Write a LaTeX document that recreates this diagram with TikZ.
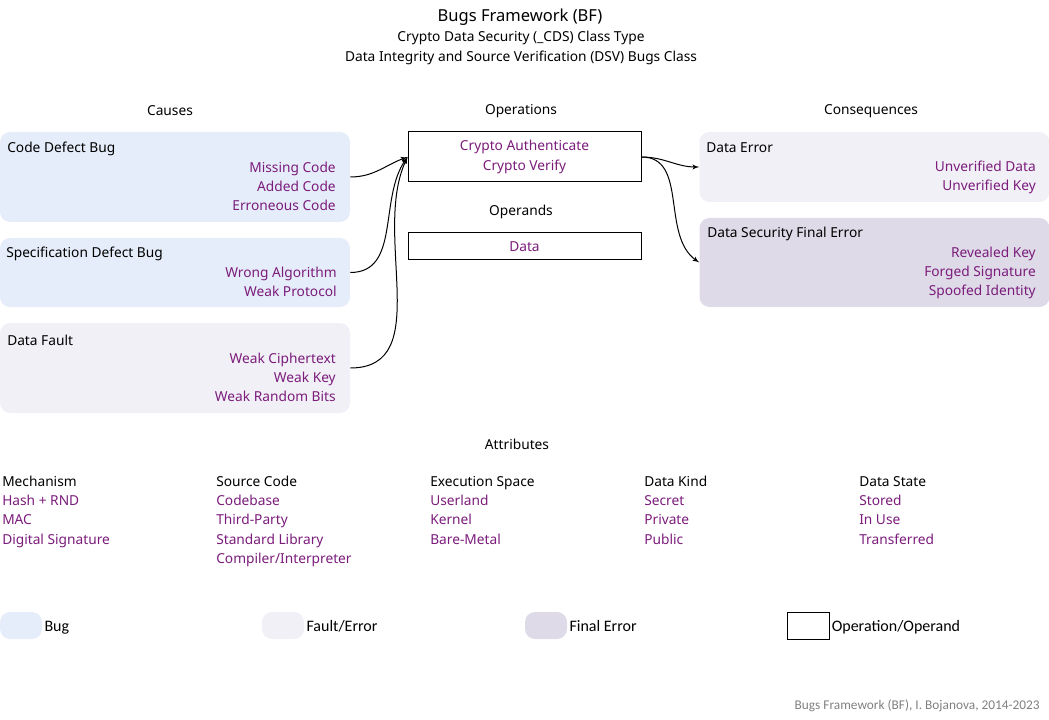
\documentclass[tikz,border=0pt]{standalone}
\usepackage{fontspec}
\setmainfont{Noto Sans}
\newfontfamily\legendfont{Carlito}
\usetikzlibrary{arrows}
\definecolor{bugfill}{HTML}{E6EDFA}
\definecolor{faultfill}{HTML}{F2F0F7}
\definecolor{finalfill}{HTML}{DEDAE8}
\definecolor{bfpurple}{HTML}{7B1C7B}
\definecolor{footgray}{HTML}{808080}
\begin{document}
\begin{tikzpicture}[x=0.75pt, y=-0.75pt,
txt/.style={font=\fontsize{10.3}{14.5}\selectfont, inner sep=0pt},
head/.style={txt, text=black},
item/.style={txt, text=bfpurple, align=right, anchor=north east},
attr/.style={txt, align=left, anchor=north west},
box/.style={rectangle, rounded corners=7.5pt, draw=none, inner sep=0pt,
    minimum width=262.5pt},
bug/.style={box, fill=bugfill},
fault/.style={box, fill=faultfill},
final/.style={box, fill=finalfill},
oper/.style={rectangle, draw=black, line width=0.75pt, fill=white, inner sep=0pt,
    minimum width=174.75pt, txt, text=bfpurple, align=center},
legend-box/.style={minimum width=31.5pt, minimum height=20.25pt},
legend/.style={font=\legendfont\fontsize{12}{14}\selectfont, inner sep=1.5pt,
    text height=8pt, text depth=2.5pt, anchor=west, yshift=-1.8pt},
line/.style={draw, line width=0.75pt, -latex'}
]

\useasboundingbox (0,0) rectangle (1049,720);

\node [txt, font=\fontsize{12.4}{14}\selectfont] (bf-title) at (520,17) {Bugs Framework (BF)};
\node [txt] (cds-title) at (521,38) {Crypto Data Security (\_CDS) Class Type};
\node [txt] (dsv-title) at (521,58) {Data Integrity and Source Verification (DSV) Bugs Class};

\node [head] (causes) at (170,111) {Causes};
\node [head] (operations) at (521,111) {Operations};
\node [head] (consequences) at (871,111) {Consequences};

\node [bug, minimum height=67.5pt] (cdb) at (175,177) {};
\node [head, anchor=west] (cdb-title) at (7,149) {Code Defect Bug};
\node [item] (cdb-items) at (336,158.5) {\strut Missing Code\\Added Code\\Erroneous Code};

\node [bug, minimum height=51.75pt] (sdb) at (175,272.5) {};
\node [head, anchor=west] (sdb-title) at (6,254) {Specification Defect Bug};
\node [item] (sdb-items) at (337,263.5) {\strut Wrong Algorithm\\Weak Protocol};

\node [fault, minimum height=67.5pt] (df) at (175,368) {};
\node [head, anchor=west] (df-title) at (7,340) {Data Fault};
\node [item] (df-items) at (336,349.5) {\strut Weak Ciphertext\\Weak Key\\Weak Random Bits};

\node [oper, minimum height=37.5pt] (ops) at (524.5,157) {Crypto Authenticate\\Crypto Verify};
\node [head] (operands) at (521,212) {Operands};
\node [oper, minimum height=20.25pt] (data) at (524.5,246.5) {Data};

\node [fault, minimum height=52.5pt] (de) at (874.5,167) {};
\node [head, anchor=west] (de-title) at (706,148) {Data Error};
\node [item] (de-items) at (1036,157.5) {\strut Unverified Data\\Unverified Key};

\node [final, minimum height=66.75pt] (dsfe) at (874.5,262.5) {};
\node [head, anchor=west] (dsfe-title) at (707,234) {Data Security Final Error};
\node [item] (dsfe-items) at (1036,243.5) {\strut Revealed Key\\Forged Signature\\Spoofed Identity};

\path [line] (cdb.east) to [out=0, in=200] (ops.west);
\path [line] (sdb.east) to [out=0, in=235] (ops.west);
\path [line] (df.east) to [out=0, in=245] (ops.west);
\path [line] (ops.east) to [out=0, in=180] (de.west);
\path [line] (ops.east) to [out=0, in=145] (dsfe.west);

\node [head] (attributes) at (517,444) {Attributes};
\node [attr] (mechanism) at (2,472.5) {\strut Mechanism\\\textcolor{bfpurple}{Hash + RND}\\
    \textcolor{bfpurple}{MAC}\\\textcolor{bfpurple}{Digital Signature}};
\node [attr] (source-code) at (216,472.5) {\strut Source Code\\\textcolor{bfpurple}{Codebase}\\
    \textcolor{bfpurple}{Third-Party}\\\textcolor{bfpurple}{Standard Library}\\
    \textcolor{bfpurple}{Compiler/Interpreter}};
\node [attr] (exec-space) at (430,472.5) {\strut Execution Space\\\textcolor{bfpurple}{Userland}\\
    \textcolor{bfpurple}{Kernel}\\\textcolor{bfpurple}{Bare-Metal}};
\node [attr] (data-kind) at (644,472.5) {\strut Data Kind\\\textcolor{bfpurple}{Secret}\\
    \textcolor{bfpurple}{Private}\\\textcolor{bfpurple}{Public}};
\node [attr] (data-state) at (859,472.5) {\strut Data State\\\textcolor{bfpurple}{Stored}\\
    \textcolor{bfpurple}{In Use}\\\textcolor{bfpurple}{Transferred}};

\node [bug, legend-box] (leg-bug) at (21,625.5) {};
\node [legend] (leg-bug-text) at (leg-bug.east) {Bug};
\node [fault, legend-box] (leg-fault) at (283,625.5) {};
\node [legend] (leg-fault-text) at (leg-fault.east) {Fault/Error};
\node [final, legend-box] (leg-final) at (546,625.5) {};
\node [legend] (leg-final-text) at (leg-final.east) {Final Error};
\node [rectangle, draw=black, line width=0.75pt, legend-box] (leg-oper) at (808,625.5) {};
\node [legend] (leg-oper-text) at (leg-oper.east) {Operation/Operand};

\node [font=\legendfont\fontsize{10}{12}\selectfont, text=footgray, anchor=east, inner sep=0pt]
    (footer) at (1040,706) {Bugs Framework (BF), I. Bojanova, 2014-2023};

\end{tikzpicture}
\end{document}
